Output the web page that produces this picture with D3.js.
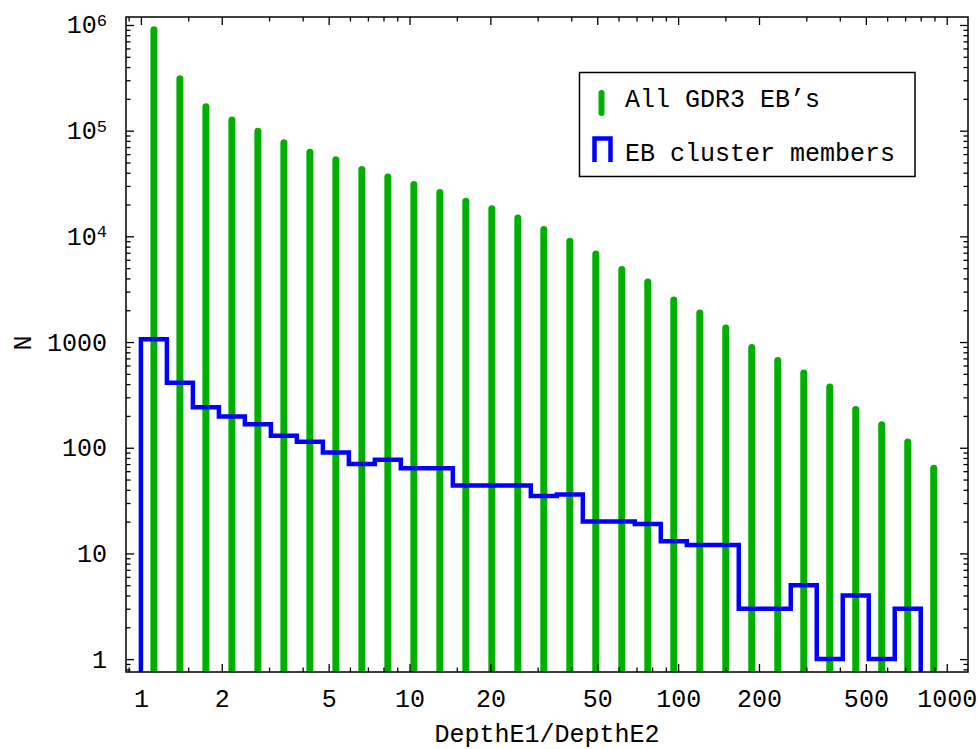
<!DOCTYPE html>
<html>
<head>
<meta charset="utf-8">
<script src="https://cdn.jsdelivr.net/npm/d3@7"></script>
<style>
  html, body { margin: 0; padding: 0; background: #fff; }
  svg { display: block; }
  text { font-family: "Liberation Mono", "DejaVu Sans Mono", monospace; fill: #000; }
</style>
</head>
<body>
<svg id="chart" width="979" height="749"></svg>
<script>
// ---- data ----
// histogram bin edges in DepthE1/DepthE2 (31 logarithmic bins from 1 to 1000)
const binEdges = [1, 1.2496, 1.5615, 1.9513, 2.4384, 3.0470, 3.8076, 4.7580, 5.9456, 7.4297,
  9.2842, 11.602, 14.498, 18.116, 22.638, 28.289, 35.350, 44.174, 55.200, 68.979,
  86.197, 107.71, 134.60, 168.19, 210.18, 262.64, 328.20, 410.12, 512.49, 640.41,
  800.26, 1000];
// All GDR3 EB's counts per bin
const allEB = [900000, 310000, 168000, 126000, 99000, 77000, 62500, 53000, 43000, 36500,
  31000, 26000, 21500, 18200, 14900, 11600, 9000, 6800, 4850, 3700,
  2500, 1880, 1360, 890, 670, 510, 375, 230, 165, 113, 64];
// EB cluster members counts per bin
const clusterEB = [1060, 413, 241, 197, 167, 130, 114, 90, 70, 77,
  64, 64, 44, 44, 44, 35, 36, 20, 20, 19,
  13, 12, 12, 3, 3, 5, 1, 4, 1, 3, 0];
const xMajorTicks = [1, 2, 5, 10, 20, 50, 100, 200, 500, 1000];
const xMinorTicks = [0.9, 1.5, 3, 4, 6, 7, 8, 9, 15, 30, 40, 60, 70, 80, 90,
  150, 300, 400, 600, 700, 800, 900];
const yMajorTicks = [1, 10, 100, 1000, 1e4, 1e5, 1e6];
const yMinorTicks = [0.8, 0.9].concat(
  [1, 10, 100, 1000, 1e4, 1e5].flatMap(d => [2, 3, 4, 5, 6, 7, 8, 9].map(m => m * d)));
const xLabel = "DepthE1/DepthE2";
const yLabel = "N";
const legendLabels = ["All GDR3 EB\u2019s", "EB cluster members"];

// ---- layout ----
const W = 979, H = 749;
const L = 126, R = 968, T = 17, B = 672;
const green = "#00b000", blue = "#0000ff";
const FS = 25;

const svg = d3.select("#chart");
svg.append("rect").attr("width", W).attr("height", H).attr("fill", "#fff");

const x = d3.scaleLog().domain([0.88, 1200]).range([L, R]);
const y = d3.scaleLog().domain([0.755, 1.19e6]).range([B, T]);

svg.append("clipPath").attr("id", "plotclip")
  .append("rect").attr("x", L).attr("y", T).attr("width", R - L).attr("height", B - T);

const plot = svg.append("g").attr("clip-path", "url(#plotclip)");

// green bars
const bins = allEB.map((v, i) => ({ v, c: Math.sqrt(binEdges[i] * binEdges[i + 1]) }));
plot.selectAll("line.bar").data(bins).join("line")
  .attr("class", "bar")
  .attr("x1", d => x(d.c)).attr("x2", d => x(d.c))
  .attr("y1", y.range()[0] + 10).attr("y2", d => y(d.v))
  .attr("stroke", green).attr("stroke-width", 7).attr("stroke-linecap", "round");

// blue step histogram
const pts = [];
const yBottom = y.range()[0] + 5;
let lastEdge = binEdges[0];
pts.push([x(binEdges[0]), yBottom]);
clusterEB.forEach((v, i) => {
  if (v > 0) {
    pts.push([x(binEdges[i]), y(v)]);
    pts.push([x(binEdges[i + 1]), y(v)]);
    lastEdge = binEdges[i + 1];
  }
});
pts.push([x(lastEdge), yBottom]);
plot.append("path")
  .attr("d", d3.line()(pts))
  .attr("fill", "none").attr("stroke", blue).attr("stroke-width", 4.5)
  .attr("stroke-linejoin", "miter");

// ---- axes ----
function styleAxis(g) {
  g.select(".domain").remove();
  g.selectAll(".tick line").attr("stroke", "#000").attr("stroke-width", 1.3);
  g.attr("font-family", null).attr("font-size", null);
  g.selectAll("text").attr("font-size", FS).attr("fill", "#000");
}
// bottom
svg.append("g").attr("transform", `translate(0,${B})`)
  .call(d3.axisBottom(x).tickValues(xMajorTicks).tickFormat(d3.format("d")).tickSize(-8).tickPadding(17))
  .call(styleAxis);
svg.append("g").attr("transform", `translate(0,${B})`)
  .call(d3.axisBottom(x).tickValues(xMinorTicks).tickFormat("").tickSize(-4.5))
  .call(styleAxis);
// top
svg.append("g").attr("transform", `translate(0,${T})`)
  .call(d3.axisTop(x).tickValues(xMajorTicks).tickFormat("").tickSize(-8))
  .call(styleAxis);
svg.append("g").attr("transform", `translate(0,${T})`)
  .call(d3.axisTop(x).tickValues(xMinorTicks).tickFormat("").tickSize(-4.5))
  .call(styleAxis);
// left
const yFmt = d => d >= 1e4 ? "10" : d3.format("d")(d);
const leftAxis = svg.append("g").attr("transform", `translate(${L},0)`)
  .call(d3.axisLeft(y).tickValues(yMajorTicks).tickFormat(yFmt).tickSize(-8).tickPadding(19))
  .call(styleAxis);
leftAxis.selectAll(".tick text").each(function (d) {
  if (d >= 1e4) {
    d3.select(this).append("tspan")
      .attr("dy", "-0.45em").attr("font-size", 17)
      .text(Math.round(Math.log10(d)));
  }
});
svg.append("g").attr("transform", `translate(${L},0)`)
  .call(d3.axisLeft(y).tickValues(yMinorTicks).tickFormat("").tickSize(-4.5))
  .call(styleAxis);
// right
svg.append("g").attr("transform", `translate(${R},0)`)
  .call(d3.axisRight(y).tickValues(yMajorTicks).tickFormat("").tickSize(-8))
  .call(styleAxis);
svg.append("g").attr("transform", `translate(${R},0)`)
  .call(d3.axisRight(y).tickValues(yMinorTicks).tickFormat("").tickSize(-4.5))
  .call(styleAxis);

// frame
svg.append("rect").attr("x", L).attr("y", T).attr("width", R - L).attr("height", B - T)
  .attr("fill", "none").attr("stroke", "#000").attr("stroke-width", 1.5);

// axis titles
svg.append("text").attr("x", (L + R) / 2).attr("y", 742)
  .attr("text-anchor", "middle").attr("font-size", FS).text(xLabel);
svg.append("text").attr("transform", "translate(31,343) rotate(-90)")
  .attr("text-anchor", "middle").attr("font-size", FS).text(yLabel);

// legend
const lg = svg.append("g");
lg.append("rect").attr("x", 579.5).attr("y", 72.5).attr("width", 335.5).attr("height", 104)
  .attr("fill", "#fff").attr("stroke", "#000").attr("stroke-width", 1.5);
lg.append("line").attr("x1", 601.5).attr("x2", 601.5).attr("y1", 93).attr("y2", 113)
  .attr("stroke", green).attr("stroke-width", 6).attr("stroke-linecap", "round");
lg.append("text").attr("x", 625).attr("y", 107).attr("font-size", FS).text(legendLabels[0]);
lg.append("path").attr("d", "M594.5,162 V138.5 H610.5 V162")
  .attr("fill", "none").attr("stroke", blue).attr("stroke-width", 4.5);
lg.append("text").attr("x", 625).attr("y", 161).attr("font-size", FS).text(legendLabels[1]);
</script>
</body>
</html>
